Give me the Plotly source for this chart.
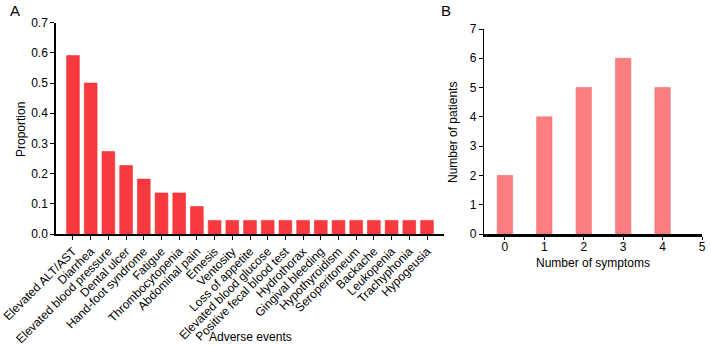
import plotly.graph_objects as go

events = ["Elevated ALT/AST", "Diarrhea", "Elevated blood pressure", "Dental ulcer",
          "Hand-foot syndrome", "Fatigue", "Thrombocytopenia", "Abdominal pain",
          "Emesis", "Ventosity", "Loss of appetite", "Elevated blood glucose",
          "Positive fecal blood test", "Hydrothorax", "Gingival bleeding",
          "Hypothyroidism", "Seroperitoneum", "Backache", "Leukopenia",
          "Trachyphonia", "Hypogeusia"]
proportions = [0.591, 0.5, 0.273, 0.227, 0.182, 0.136, 0.136, 0.091,
               0.045, 0.045, 0.045, 0.045, 0.045, 0.045, 0.045,
               0.045, 0.045, 0.045, 0.045, 0.045, 0.045]

symptoms = [0, 1, 2, 3, 4]
patients = [2, 4, 5, 6, 5]

W, H = 711, 345
FONT = "Liberation Sans, Arial, sans-serif"

def px(x):
    return x / W

def py(y):
    return (H - y) / H

fig = go.Figure()
fig.add_trace(go.Bar(x=list(range(len(events))), y=proportions, width=0.72,
                     marker=dict(color="#F83A3F", line=dict(width=0.6, color="#E83236")),
                     xaxis="x", yaxis="y", showlegend=False))
fig.add_trace(go.Bar(x=symptoms, y=patients, width=0.39,
                     marker=dict(color="#FD7E80", line=dict(width=0.6, color="#EE7073")),
                     xaxis="x2", yaxis="y2", showlegend=False))

axis_common = dict(showgrid=False, zeroline=False, showline=True, linecolor="black",
                   ticks="outside", tickcolor="black",
                   tickfont=dict(family=FONT, size=12, color="black"), automargin=False)

def ann(text, x, y, size=12, angle=0):
    return dict(text=text, x=px(x), y=py(y), xref="paper", yref="paper",
                xanchor="center", yanchor="middle", showarrow=False,
                textangle=angle, font=dict(size=size, family=FONT, color="black"))

fig.update_layout(
    width=W, height=H,
    margin=dict(l=0, r=0, t=0, b=0),
    plot_bgcolor="white", paper_bgcolor="white",
    font=dict(family=FONT, size=12, color="black"),
    xaxis=dict(domain=[px(56), px(444)], anchor="y", range=[-0.96, 20.96],
               tickmode="array", tickvals=list(range(len(events))), ticktext=events,
               tickangle=-45, linewidth=1.5, tickwidth=1.2, ticklen=4, **axis_common),
    yaxis=dict(domain=[py(234), py(22.7)], anchor="x", range=[0, 0.7],
               tickmode="array", tickvals=[0, 0.1, 0.2, 0.3, 0.4, 0.5, 0.6, 0.7],
               tickformat=".1f", linewidth=1.5, tickwidth=1.2, ticklen=4, **axis_common),
    xaxis2=dict(domain=[px(484), px(702)], anchor="y2", range=[-0.53, 5],
                tickmode="array", tickvals=[0, 1, 2, 3, 4, 5],
                linewidth=2.5, tickwidth=1.2, ticklen=3, ticklabelstandoff=-3,
                **axis_common),
    yaxis2=dict(domain=[py(234), py(29)], anchor="x2", range=[0, 7],
                tickmode="array", tickvals=[0, 1, 2, 3, 4, 5, 6, 7],
                linewidth=1.2, tickwidth=1.2, ticklen=4, **axis_common),
    annotations=[
        ann("A", 15, 10, size=15),
        ann("B", 446, 10, size=15),
        ann("Proportion", 21, 130, angle=-90),
        ann("Adverse events", 250, 337),
        ann("Number of patients", 453, 133, angle=-90),
        ann("Number of symptoms", 593, 263),
    ],
)

fig.write_html("out.html", config={"displayModeBar": False},
               post_script="document.body.style.margin='0';document.body.style.overflow='hidden';")
